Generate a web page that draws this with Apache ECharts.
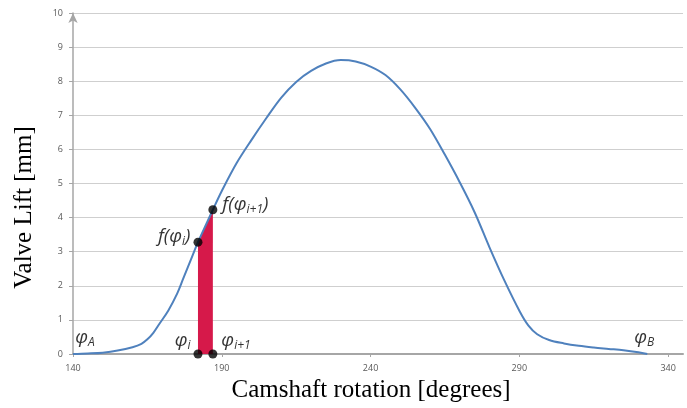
<!DOCTYPE html>
<html>
<head>
<meta charset="utf-8">
<script src="https://cdn.jsdelivr.net/npm/echarts@6/dist/echarts.min.js"></script>
<style>
  html, body { margin: 0; padding: 0; background: #fff; }
  #chart { width: 687px; height: 408px; }
</style>
</head>
<body>
<div id="chart"></div>
<script>
// valve lift curve
const angles = [140, 145, 150, 155, 160, 163, 165, 167, 169, 172, 175, 177, 180, 182, 185, 187, 190, 195, 200, 205, 210, 215, 220, 225, 230, 235, 240, 245, 250, 255, 260, 265, 270, 275, 280, 285, 290, 293, 296, 300, 305, 310, 315, 320, 325, 330, 333];
const lifts = [0, 0.015, 0.04, 0.1, 0.2, 0.3, 0.43, 0.62, 0.88, 1.27, 1.77, 2.2, 2.85, 3.28, 3.85, 4.23, 4.78, 5.6, 6.28, 6.92, 7.52, 7.98, 8.3, 8.52, 8.62, 8.58, 8.43, 8.18, 7.76, 7.22, 6.6, 5.84, 5.03, 4.15, 3.12, 2.15, 1.27, 0.84, 0.58, 0.41, 0.31, 0.24, 0.19, 0.15, 0.11, 0.05, 0];

// the integration strip
const stepAngles = [182, 187];
const stepLifts = [3.28, 4.23];

// ends of the lift event
const endAngles = [140, 333];

const xTicks = [140, 190, 240, 290, 340];
const yTicks = [0, 1, 2, 3, 4, 5, 6, 7, 8, 9, 10];

const chart = echarts.init(document.getElementById("chart"));

const labelFont = "Open Sans";
const rich = {
    m: { fontFamily: labelFont, fontSize: 19, color: "#000", fontStyle: "italic" },
    s: { fontFamily: labelFont, fontSize: 12, color: "#000", fontStyle: "italic", padding: [10, 0, 0, 0] },
};

const dotData = [
    { value: [stepAngles[0], 0], label: { position: "left", offset: [2, -13], formatter: "{m|φ}{s|i}" } },
    { value: [stepAngles[1], 0], label: { position: "right", offset: [-1, -13], formatter: "{m|φ}{s|i+1}" } },
    { value: [stepAngles[0], stepLifts[0]], label: { position: "left", offset: [2, -6], formatter: "{m|f(φ}{s|i}{m|)}" } },
    { value: [stepAngles[1], stepLifts[1]], label: { position: "right", offset: [0, -5], formatter: "{m|f(φ}{s|i+1}{m|)}" } },
];

const endData = [
    { value: [endAngles[0], 0], label: { offset: [12, -1], formatter: "{m|φ}{s|A}" } },
    { value: [endAngles[1], 0], label: { offset: [-3, -1], formatter: "{m|φ}{s|B}" } },
];

const option = {
    animation: false,
    grid: { left: 73, right: 4, top: 13, bottom: 50, containLabel: false },
    xAxis: {
        type: "value",
        min: 140,
        max: 345,
        name: "Camshaft rotation [degrees]",
        nameLocation: "middle",
        nameGap: 24,
        nameTextStyle: { fontFamily: "Liberation Serif", fontSize: 25, color: "#000", padding: [0, 14, 0, 0] },
        axisLine: { lineStyle: { color: "#a6a6a6", width: 2 } },
        axisTick: { show: true, customValues: xTicks, length: 3, lineStyle: { color: "#a6a6a6" } },
        axisLabel: { customValues: xTicks, margin: 10, fontFamily: labelFont, fontSize: 9, color: "#595959" },
        splitLine: { show: false },
    },
    yAxis: {
        type: "value",
        min: 0,
        max: 10,
        interval: 1,
        name: "Valve Lift [mm]",
        nameLocation: "middle",
        nameGap: 36,
        nameTextStyle: { fontFamily: "Liberation Serif", fontSize: 25, color: "#000", padding: [0, 48, 0, 0] },
        axisLine: {
            show: true,
            symbol: ["none", "arrow"],
            symbolSize: [7, 10],
            lineStyle: { color: "#a6a6a6", width: 1.5 },
        },
        axisTick: { show: true, length: 4, lineStyle: { color: "#a6a6a6" } },
        axisLabel: {
            margin: 10,
            fontFamily: labelFont,
            fontSize: 9,
            color: "#595959",
            formatter: (v) => (yTicks.includes(v) ? String(v) : ""),
        },
        splitLine: { show: true, lineStyle: { color: "#cfcfcf", width: 1 } },
    },
    series: [
        {
            name: "strip",
            type: "line",
            data: stepAngles.map((a, i) => [a, stepLifts[i]]),
            symbol: "none",
            lineStyle: { width: 0 },
            areaStyle: { color: "#d6194a", opacity: 1 },
            z: 2,
        },
        {
            name: "lift",
            type: "line",
            data: angles.map((a, i) => [a, lifts[i]]),
            smooth: 0.35,
            symbol: "none",
            lineStyle: { color: "#4f81bd", width: 2 },
            z: 3,
        },
        {
            name: "dots",
            type: "scatter",
            data: dotData,
            symbolSize: 9,
            itemStyle: { color: "#000" },
            label: { show: true, rich: rich },
            z: 4,
        },
        {
            name: "ends",
            type: "scatter",
            data: endData,
            symbolSize: 0,
            label: { show: true, position: "top", distance: 4, rich: rich },
            z: 4,
        },
    ],
};

chart.setOption(option);
</script>
</body>
</html>
